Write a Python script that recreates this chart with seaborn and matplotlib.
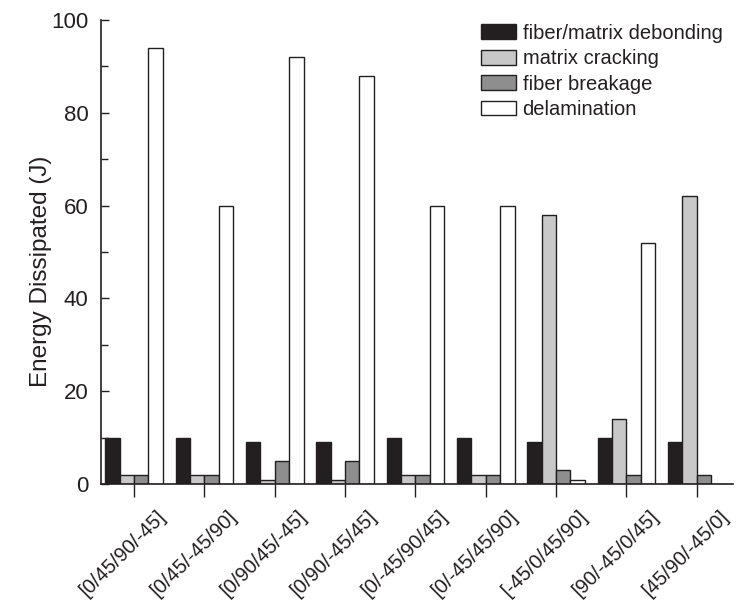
import matplotlib
matplotlib.use("Agg")
import matplotlib.pyplot as plt
import matplotlib.transforms as mtransforms
import seaborn as sns
import pandas as pd
from matplotlib.ticker import MultipleLocator

layups = ["[0/45/90/-45]", "[0/45/-45/90]", "[0/90/45/-45]", "[0/90/-45/45]",
          "[0/-45/90/45]", "[0/-45/45/90]", "[-45/0/45/90]", "[90/-45/0/45]",
          "[45/90/-45/0]"]
debonding = [10, 10, 9, 9, 10, 10, 9, 10, 9]
cracking = [2, 2, 1, 1, 2, 2, 58, 14, 62]
breakage = [2, 2, 5, 5, 2, 2, 3, 2, 2]
delamination = [94, 60, 92, 88, 60, 60, 1, 52, 0]
series_names = ["fiber/matrix debonding", "matrix cracking", "fiber breakage", "delamination"]
colors = ["#231f20", "#c8c8c8", "#8e8e8e", "#ffffff"]

rows = []
for name, vals in zip(series_names, [debonding, cracking, breakage, delamination]):
    for lay, v in zip(layups, vals):
        rows.append({"layup": lay, "mode": name, "energy": v})
df = pd.DataFrame(rows)

sns.set_style("ticks")
plt.rcParams["font.family"] = ["Liberation Sans", "DejaVu Sans"]

fig = plt.figure(figsize=(7.37, 6.03), dpi=100)
ax = fig.add_axes([0.137, 0.197, 0.858, 0.770])
sns.barplot(data=df, x="layup", y="energy", hue="mode", hue_order=series_names,
            order=layups, palette=colors, width=0.82, edgecolor="#231f20",
            linewidth=1.0, saturation=1, ax=ax, errorbar=None)

ax.set_xlim(-0.47, 8.52)
ax.set_ylim(0, 100)
ax.yaxis.set_major_locator(MultipleLocator(20))
ax.yaxis.set_minor_locator(MultipleLocator(10))
ax.tick_params(axis="y", which="major", direction="in", length=6, width=1, labelsize=16, pad=9,
               color="#231f20", labelcolor="#231f20")
ax.tick_params(axis="y", which="minor", direction="in", length=5, width=1, color="#231f20")
ax.tick_params(axis="x", which="major", direction="out", length=9, width=1, labelsize=14.5,
               pad=7, color="#231f20", labelcolor="#231f20")
ax.set_xlabel("")
ax.set_ylabel("Energy Dissipated (J)", fontsize=17.5, color="#231f20")
ax.yaxis.set_label_coords(-0.077, 0.459)
offset = mtransforms.ScaledTranslation(-0.11, 0, fig.dpi_scale_trans)
for lab in ax.get_xticklabels():
    lab.set_rotation(45)
    lab.set_ha("center")
    lab.set_transform(lab.get_transform() + offset)
for s in ["top", "right"]:
    ax.spines[s].set_visible(False)
for s in ["left", "bottom"]:
    ax.spines[s].set_color("#231f20")
    ax.spines[s].set_linewidth(1.2)

leg = ax.legend(loc="upper right", bbox_to_anchor=(1.005, 1.022), frameon=False, fontsize=14.5,
                handlelength=1.75, handleheight=0.75, handletextpad=0.3, labelspacing=0.32,
                borderaxespad=0.3)
for t in leg.get_texts():
    t.set_color("#231f20")

fig.savefig("out.png", dpi=100)
